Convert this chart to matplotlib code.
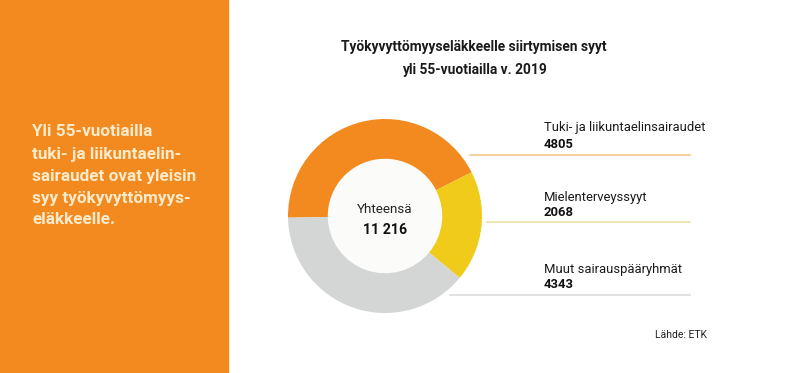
import matplotlib
matplotlib.use("Agg")
import matplotlib.pyplot as plt
from matplotlib.patches import Rectangle

plt.rcParams["font.family"] = ["Roboto", "DejaVu Sans"]

# ── Data ──────────────────────────────────────────────────────────────────────
categories = ["Tuki- ja liikuntaelinsairaudet", "Mielenterveyssyyt", "Muut sairauspääryhmät"]
values = [4805, 2068, 4343]
total_label = "11 216"
colors = ["#F28A1F", "#F0CB1A", "#D4D5D5"]
line_colors = ["#F2C98A", "#EEE3A6", "#DCDCDC"]

title_lines = ["Työkyvyttömyyseläkkeelle siirtymisen syyt", "yli 55-vuotiailla v. 2019"]
side_text = ["Yli 55-vuotiailla", "tuki- ja liikuntaelin-", "sairaudet ovat yleisin",
             "syy työkyvyttömyys-", "eläkkeelle."]
source = "Lähde: ETK"

W, H = 790, 373
fig = plt.figure(figsize=(W / 100, H / 100), dpi=100)
fig.patch.set_facecolor("white")

# overlay axes in pixel coordinates for panel, text and leader lines
bg = fig.add_axes([0, 0, 1, 1])
bg.set_xlim(0, W)
bg.set_ylim(H, 0)
bg.axis("off")

bg.add_patch(Rectangle((0, 0), 228, H, color="#F28A1F", zorder=0))
for i, line in enumerate(side_text):
    bg.text(32, 132 + i * 22, line, color="#FCEBCB", fontsize=12.3,
            fontweight="bold", va="center", ha="left")

bg.text(474, 47, title_lines[0], fontsize=9.9, fontweight="bold", ha="center", va="center", color="#1a1a1a")
bg.text(474, 70, title_lines[1], fontsize=9.9, fontweight="bold", ha="center", va="center", color="#1a1a1a")

# ── Donut ─────────────────────────────────────────────────────────────────────
cx, cy, R = 385, 216, 97
ax = fig.add_axes([(cx - R) / W, (H - cy - R) / H, 2 * R / W, 2 * R / H])
ax.pie(values, colors=colors, startangle=181, counterclock=False, radius=1,
       wedgeprops=dict(width=0.41, edgecolor="none"))
ax.add_patch(plt.Circle((0, 0), 0.59, color="#FBFBFA", zorder=0))
ax.set_xlim(-1, 1)
ax.set_ylim(-1, 1)
ax.set_aspect("equal")
ax.axis("off")

ax.text(0, 0.07, "Yhteensä", fontsize=9.6, ha="center", va="center", color="#222222")
ax.text(0, -0.14, total_label, fontsize=10.2, fontweight="bold", ha="center", va="center", color="#111111")

# ── Labels and leader lines ──────────────────────────────────────────────────
line_y = [155, 222, 295]
line_x0 = [470, 487, 450]
label_y = [128, 197, 269]
for name, val, ly, lx0, ty, lc in zip(categories, values, line_y, line_x0, label_y, line_colors):
    bg.plot([lx0, 690], [ly, ly], color=lc, lw=1.2, zorder=1)
    bg.text(544, ty, name, fontsize=9.4, ha="left", va="center", color="#1a1a1a")
    bg.text(544, ty + 16, str(val), fontsize=9.4, fontweight="bold", ha="left", va="center", color="#111111")

bg.text(655, 335, source, fontsize=7.5, ha="left", va="center", color="#222222")

fig.savefig("out.png", dpi=100)
